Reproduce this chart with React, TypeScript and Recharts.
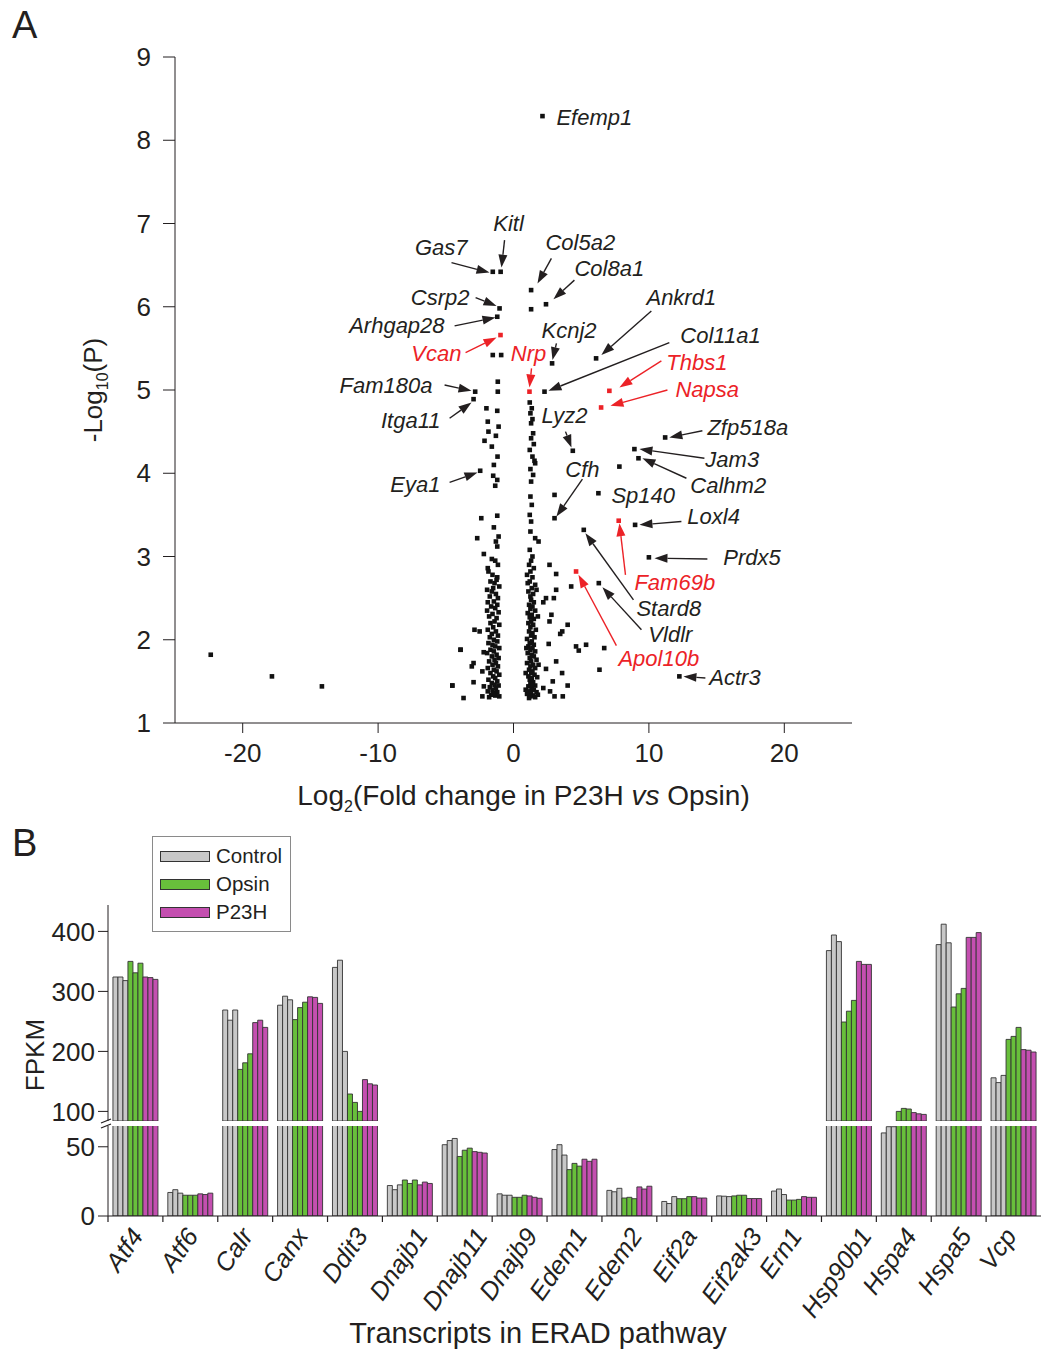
import React from "react";
import {
  Bar,
  BarChart,
  Legend,
  Rectangle,
  ReferenceDot,
  ReferenceLine,
  Scatter,
  ScatterChart,
  XAxis,
  YAxis,
} from "recharts";

const FONT = "'Liberation Sans', Arial, Helvetica, sans-serif";
const INK = "#231f20";
const RED = "#ec2227";
const GRAY = "#c8c8c8";
const GREEN = "#68bf3b";
const MAGENTA = "#c44fb0";

// ---- panel A: volcano plot, [log2 fold change, -log10 P] ----
const leftColumn: [number, number][] = [
  [-1.53, 5.42], [-0.91, 5.42], [-1.16, 5.1], [-1.16, 4.98], [-2.0, 4.78], [-1.2, 4.75],
  [-1.9, 4.62], [-1.1, 4.56], [-1.85, 4.5], [-1.3, 4.45], [-2.14, 4.39], [-1.6, 4.32],
  [-1.18, 4.2], [-1.45, 4.1], [-1.5, 3.97], [-1.2, 3.92], [-1.35, 3.85], [-1.2, 3.49],
  [-2.38, 3.46], [-2.68, 3.22], [-1.1, 3.24], [-1.2, 3.12], [-2.19, 3.03], [-1.6, 2.97],
  [-1.35, 2.95], [-1.15, 2.9], [-1.9, 2.86], [-1.45, 3.35], [-1.3, 3.18],
  [-1.85, 2.82], [-1.55, 2.78], [-1.2, 2.75], [-1.7, 2.7], [-1.4, 2.68], [-1.05, 2.64],
  [-1.95, 2.6], [-1.6, 2.58], [-1.3, 2.55], [-1.75, 2.52], [-1.15, 2.5], [-1.5, 2.62],
  [-1.25, 2.72], [-1.9, 2.45],
  [-1.45, 2.46], [-1.2, 2.42], [-1.65, 2.4], [-1.35, 2.38], [-1.95, 2.35], [-1.1, 2.33],
  [-1.55, 2.31], [-1.8, 2.28], [-1.25, 2.26], [-1.4, 2.22], [-1.7, 2.2], [-1.05, 2.18],
  [-1.5, 2.15], [-1.9, 2.12], [-1.3, 2.1], [-1.6, 2.07], [-1.15, 2.05], [-1.75, 2.03],
  [-1.45, 2.0], [-2.88, 2.12], [-2.5, 2.1],
  [-1.2, 1.98], [-1.85, 1.96], [-1.55, 1.94], [-1.35, 1.92], [-1.05, 1.9], [-1.7, 1.88],
  [-1.45, 1.86], [-1.95, 1.84], [-1.25, 1.82], [-1.6, 1.8], [-1.1, 1.78], [-1.4, 1.76],
  [-1.8, 1.74], [-1.3, 1.72], [-1.55, 1.7], [-1.15, 1.68], [-1.9, 1.66], [-1.45, 1.64],
  [-1.25, 1.62], [-1.7, 1.6], [-1.05, 1.58], [-1.5, 1.56], [-1.35, 1.54], [-1.85, 1.52],
  [-1.2, 1.5], [-3.91, 1.88], [-3.08, 1.68], [-2.95, 1.72], [-2.95, 1.49], [-2.2, 1.85],
  [-2.3, 1.62],
  [-1.6, 1.48], [-1.4, 1.46], [-1.1, 1.45], [-1.75, 1.43], [-1.3, 1.42], [-1.55, 1.4],
  [-1.9, 1.38], [-1.2, 1.37], [-1.45, 1.36], [-1.65, 1.34], [-1.35, 1.33], [-1.05, 1.32],
  [-1.8, 1.31], [-1.5, 1.35], [-4.52, 1.45], [-3.69, 1.3], [-2.19, 1.44], [-2.3, 1.32],
];

const rightColumn: [number, number][] = [
  [1.3, 5.97], [1.2, 4.85], [1.35, 4.78], [1.25, 4.72], [1.4, 4.65], [1.3, 4.6],
  [1.45, 4.48], [1.3, 4.42], [1.5, 4.35], [1.2, 4.28], [1.4, 4.2], [1.6, 4.12],
  [1.25, 4.05], [1.45, 3.98], [1.3, 3.9], [1.55, 4.15],
  [1.25, 3.72], [1.35, 3.62], [1.2, 3.5], [1.3, 3.42], [1.25, 3.3], [1.6, 3.22],
  [1.85, 3.18], [1.2, 3.08], [1.4, 3.0],
  [1.3, 2.95], [1.15, 2.9], [1.5, 2.86], [1.25, 2.82], [1.0, 2.78], [1.4, 2.75],
  [1.2, 2.7], [1.6, 2.66], [1.35, 2.62], [1.1, 2.58], [1.45, 2.55], [1.25, 2.52],
  [1.7, 2.6], [1.05, 2.68],
  [1.3, 2.48], [1.5, 2.45], [1.15, 2.42], [1.4, 2.4], [1.25, 2.37], [1.6, 2.35],
  [1.05, 2.32], [1.35, 2.3], [1.2, 2.27], [1.5, 2.25], [1.3, 2.22], [1.1, 2.2],
  [1.45, 2.18], [1.25, 2.15], [1.65, 2.12], [1.15, 2.1], [1.4, 2.08], [1.3, 2.05],
  [1.55, 2.03], [1.0, 2.01], [1.8, 2.28], [2.2, 2.45],
  [1.35, 1.98], [1.2, 1.96], [1.5, 1.94], [1.1, 1.92], [1.4, 1.9], [1.25, 1.88],
  [1.6, 1.86], [1.05, 1.84], [1.35, 1.82], [1.5, 1.8], [1.2, 1.78], [1.7, 1.76],
  [1.3, 1.74], [1.0, 1.72], [1.45, 1.7], [1.25, 1.68], [1.6, 1.66], [1.15, 1.64],
  [1.4, 1.62], [1.3, 1.6], [1.55, 1.58], [1.1, 1.56], [1.35, 1.54], [1.2, 1.52],
  [1.75, 1.55], [0.9, 1.6], [1.85, 1.7], [0.95, 1.9],
  [1.45, 1.49], [1.25, 1.47], [1.6, 1.45], [1.1, 1.44], [1.35, 1.42], [1.5, 1.4],
  [1.2, 1.38], [1.7, 1.37], [1.3, 1.36], [1.0, 1.35], [1.45, 1.33], [1.25, 1.32],
  [1.6, 1.31], [1.15, 1.3], [1.8, 1.34], [0.9, 1.4], [1.4, 1.46],
];

const outliers: [number, number][] = [
  [-22.36, 1.82], [-17.84, 1.56], [-14.15, 1.44], [-3.91, 1.88], [-4.52, 1.45],
  [3.03, 3.74], [7.82, 4.08], [2.66, 2.9], [3.15, 2.79], [4.26, 2.64], [3.15, 2.6],
  [2.4, 2.5], [2.98, 2.5], [2.66, 2.22], [4.0, 2.18], [3.6, 2.1], [3.45, 2.07],
  [4.62, 1.92], [5.36, 1.94], [6.7, 1.9], [4.82, 1.87], [6.35, 1.64], [3.15, 1.74],
  [3.59, 1.6], [2.9, 1.5], [3.64, 1.32], [3.03, 1.32], [2.6, 1.95], [2.4, 1.65],
  [2.2, 1.42], [2.7, 1.38], [4.0, 1.45], [2.8, 2.3],
];

// named genes
const blackGenes = [
  { gene: "Efemp1", x: 2.14, y: 8.29 },
  { gene: "Gas7", x: -1.53, y: 6.42 },
  { gene: "Kitl", x: -0.95, y: 6.42 },
  { gene: "Col5a2", x: 1.3, y: 6.2 },
  { gene: "Col8a1", x: 2.4, y: 6.03 },
  { gene: "Csrp2", x: -1.03, y: 5.98 },
  { gene: "Arhgap28", x: -1.2, y: 5.88 },
  { gene: "Kcnj2", x: 2.85, y: 5.32 },
  { gene: "Ankrd1", x: 6.1, y: 5.38 },
  { gene: "Col11a1", x: 2.29, y: 4.98 },
  { gene: "Fam180a", x: -2.83, y: 4.98 },
  { gene: "Itga11", x: -2.95, y: 4.89 },
  { gene: "Lyz2", x: 4.38, y: 4.27 },
  { gene: "Zfp518a", x: 11.2, y: 4.43 },
  { gene: "Jam3", x: 8.93, y: 4.29 },
  { gene: "Calhm2", x: 9.23, y: 4.18 },
  { gene: "Eya1", x: -2.46, y: 4.03 },
  { gene: "Cfh", x: 3.03, y: 3.46 },
  { gene: "Sp140", x: 6.27, y: 3.76 },
  { gene: "Loxl4", x: 8.98, y: 3.38 },
  { gene: "Prdx5", x: 10.0, y: 2.99 },
  { gene: "Stard8", x: 5.19, y: 3.32 },
  { gene: "Vldlr", x: 6.3, y: 2.68 },
  { gene: "Actr3", x: 12.25, y: 1.56 },
];

const redGenes = [
  { gene: "Vcan", x: -0.96, y: 5.66 },
  { gene: "Nrp", x: 1.18, y: 4.98 },
  { gene: "Thbs1", x: 7.08, y: 4.99 },
  { gene: "Napsa", x: 6.47, y: 4.79 },
  { gene: "Fam69b", x: 7.77, y: 3.43 },
  { gene: "Apol10b", x: 4.62, y: 2.82 },
];

// label placement (data units): text anchor point and arrow tail -> tip
type Note = { at: [number, number]; anchor: "start" | "middle" | "end"; arrow?: [number, number, number, number] };
const notes: Record<string, Note> = {
  Efemp1: { at: [3.17, 8.27], anchor: "start" },
  Kitl: { at: [-0.37, 7.0], anchor: "middle", arrow: [-0.66, 6.8, -0.89, 6.47] },
  Gas7: { at: [-3.39, 6.71], anchor: "end", arrow: [-4.58, 6.53, -1.77, 6.41] },
  Col5a2: { at: [2.36, 6.77], anchor: "start", arrow: [2.8, 6.58, 1.77, 6.28] },
  Col8a1: { at: [4.5, 6.46], anchor: "start", arrow: [4.5, 6.32, 2.95, 6.09] },
  Csrp2: { at: [-3.25, 6.11], anchor: "end", arrow: [-2.8, 6.11, -1.25, 6.01] },
  Arhgap28: { at: [-5.09, 5.78], anchor: "end", arrow: [-4.35, 5.77, -1.33, 5.87] },
  Vcan: { at: [-3.84, 5.44], anchor: "end", arrow: [-3.54, 5.45, -1.25, 5.63] },
  Nrp: { at: [1.11, 5.44], anchor: "middle", arrow: [1.33, 5.26, 1.18, 5.03] },
  Kcnj2: { at: [2.07, 5.72], anchor: "start", arrow: [3.17, 5.56, 2.88, 5.36] },
  Ankrd1: { at: [9.82, 6.11], anchor: "start", arrow: [10.18, 5.95, 6.49, 5.42] },
  Col11a1: { at: [12.32, 5.65], anchor: "start", arrow: [11.51, 5.57, 2.58, 4.99] },
  Thbs1: { at: [11.29, 5.33], anchor: "start", arrow: [10.92, 5.35, 7.82, 5.03] },
  Napsa: { at: [11.96, 5.01], anchor: "start", arrow: [11.37, 5.0, 7.16, 4.81] },
  Fam180a: { at: [-5.98, 5.06], anchor: "end", arrow: [-5.09, 5.06, -3.1, 4.99] },
  Itga11: { at: [-5.39, 4.63], anchor: "end", arrow: [-4.72, 4.66, -3.1, 4.85] },
  Lyz2: { at: [2.07, 4.69], anchor: "start", arrow: [3.84, 4.5, 4.28, 4.31] },
  Zfp518a: { at: [14.32, 4.55], anchor: "start", arrow: [13.95, 4.51, 11.51, 4.43] },
  Jam3: { at: [14.17, 4.16], anchor: "start", arrow: [14.1, 4.18, 9.3, 4.29] },
  Calhm2: { at: [13.06, 3.85], anchor: "start", arrow: [12.77, 3.94, 9.52, 4.18] },
  Eya1: { at: [-5.39, 3.86], anchor: "end", arrow: [-4.72, 3.89, -2.66, 4.01] },
  Cfh: { at: [5.09, 4.05], anchor: "middle", arrow: [5.09, 3.93, 3.17, 3.48] },
  Sp140: { at: [7.23, 3.73], anchor: "start" },
  Loxl4: { at: [12.84, 3.48], anchor: "start", arrow: [12.4, 3.42, 9.3, 3.38] },
  Prdx5: { at: [15.5, 2.99], anchor: "start", arrow: [14.32, 2.97, 10.41, 2.98] },
  Fam69b: { at: [8.93, 2.69], anchor: "start", arrow: [8.27, 2.78, 7.82, 3.4] },
  Stard8: { at: [9.08, 2.37], anchor: "start", arrow: [8.86, 2.48, 5.31, 3.28] },
  Vldlr: { at: [9.96, 2.06], anchor: "start", arrow: [9.45, 2.12, 6.57, 2.63] },
  Apol10b: { at: [7.75, 1.77], anchor: "start", arrow: [7.6, 1.93, 4.8, 2.78] },
  Actr3: { at: [14.46, 1.55], anchor: "start", arrow: [14.17, 1.54, 12.55, 1.56] },
};

// ---- panel B: ERAD transcripts, FPKM for 3 replicates each ----
const genes = [
  "Atf4", "Atf6", "Calr", "Canx", "Ddit3", "Dnajb1", "Dnajb11", "Dnajb9", "Edem1",
  "Edem2", "Eif2a", "Eif2ak3", "Ern1", "Hsp90b1", "Hspa4", "Hspa5", "Vcp",
];
const control = [
  [324, 324, 318], [17, 19, 16.5], [269, 252, 269], [277, 292, 286], [340, 352, 200],
  [22, 19, 22.5], [51.5, 54.5, 56], [16, 15, 15], [48, 51.5, 44], [18.5, 17.5, 20],
  [10.5, 9, 14], [14.5, 14.3, 14], [18, 19.5, 15.5], [368, 394, 383], [60, 64.5, 64.5],
  [378, 412, 381], [156, 148, 160],
];
const opsin = [
  [350, 331, 347], [15, 15, 15], [170, 181, 196], [253, 273, 282], [129, 115, 100],
  [26, 23.5, 26], [43, 47.5, 49], [13.5, 13.5, 15], [33.5, 38, 36], [13, 13.5, 12.5],
  [12.5, 12.5, 14], [14.5, 15, 15], [11.5, 11.5, 12], [249, 267, 285], [100, 105, 104],
  [274, 296, 305], [220, 225, 240],
];
const p23h = [
  [324, 323, 320], [16, 15.5, 16.5], [248, 252, 240], [291, 290, 280], [153, 146, 144],
  [22.5, 24.5, 23.5], [46.5, 46, 45.5], [14.5, 13.5, 12.8], [41, 39.5, 41], [21, 19.5, 21.5],
  [14, 13, 13], [12.6, 12.6, 12.6], [14, 13.5, 13.5], [350, 345, 345], [98, 96, 95],
  [390, 390, 398], [203, 202, 199],
];

// broken FPKM axis: lower segment 0-65, upper segment 84-444
const LOWER_DOMAIN: [number, number] = [0, 65];
const UPPER_DOMAIN: [number, number] = [84, 444];

const toPts = (list: [number, number][]) => list.map(([x, y]) => ({ x, y }));
const blackPts = [...toPts(leftColumn), ...toPts(rightColumn), ...toPts(outliers), ...blackGenes];

const rows = genes.map((gene, i) => ({
  gene,
  c1: control[i][0], c2: control[i][1], c3: control[i][2],
  o1: opsin[i][0], o2: opsin[i][1], o3: opsin[i][2],
  p1: p23h[i][0], p2: p23h[i][1], p3: p23h[i][2],
}));

const SERIES = [
  { key: "c1", fill: GRAY, name: "Control" }, { key: "c2", fill: GRAY }, { key: "c3", fill: GRAY },
  { key: "o1", fill: GREEN, name: "Opsin" }, { key: "o2", fill: GREEN }, { key: "o3", fill: GREEN },
  { key: "p1", fill: MAGENTA, name: "P23H" }, { key: "p2", fill: MAGENTA }, { key: "p3", fill: MAGENTA },
];
const LEGEND_NAMES = SERIES.filter((s) => s.name).map((s) => s.name);

const square = (color: string) => (p: any) => (
  <rect x={p.cx - 2.3} y={p.cy - 2.3} width={4.6} height={4.6} fill={color} />
);

const arrow = (color: string) => (p: any) => {
  const { x1, y1, x2, y2 } = p;
  const dx = x2 - x1;
  const dy = y2 - y1;
  const len = Math.hypot(dx, dy) || 1;
  const ux = dx / len;
  const uy = dy / len;
  const hl = Math.min(13, len * 0.75);
  const hw = 4.5;
  const bx = x2 - ux * hl;
  const by = y2 - uy * hl;
  return (
    <g>
      <line x1={x1} y1={y1} x2={bx} y2={by} stroke={color} strokeWidth={1.4} />
      <polygon
        points={`${x2},${y2} ${bx - uy * hw},${by + ux * hw} ${bx + uy * hw},${by - ux * hw}`}
        fill={color}
      />
    </g>
  );
};

const tickStyle = { fontSize: 26, fill: INK, fontFamily: FONT };

const xLabelA = (props: any) => {
  const { x, y, width } = props.viewBox;
  return (
    <text x={x + width / 2 + 10} y={y + 82} textAnchor="middle" fontSize={28} fontFamily={FONT} fill={INK}>
      Log<tspan dy={7} fontSize={16}>2</tspan>
      <tspan dy={-7}>(Fold change in P23H </tspan>
      <tspan fontStyle="italic">vs</tspan>
      <tspan> Opsin)</tspan>
    </text>
  );
};

const yLabelA = (props: any) => {
  const { y, height } = props.viewBox;
  const cx = 102;
  const cy = y + height * 0.5;
  return (
    <text x={cx} y={cy} transform={`rotate(-90, ${cx}, ${cy})`} textAnchor="middle" fontSize={26} fontFamily={FONT} fill={INK}>
      -Log<tspan dy={6} fontSize={16}>10</tspan>
      <tspan dy={-6}>(P)</tspan>
    </text>
  );
};

const fpkmLabel = (props: any) => {
  const { y } = props.viewBox;
  const cx = 44;
  const cy = y + 150;
  return (
    <text x={cx} y={cy} transform={`rotate(-90, ${cx}, ${cy})`} textAnchor="middle" fontSize={26} fontFamily={FONT} fill={INK}>
      FPKM
    </text>
  );
};

const eradLabel = (props: any) => {
  const { x, y } = props.viewBox;
  return (
    <text x={x + 430} y={y + 127} textAnchor="middle" fontSize={29} fontFamily={FONT} fill={INK}>
      Transcripts in ERAD pathway
    </text>
  );
};

const GeneTick = (props: any) => {
  const { x, y, payload } = props;
  const half = payload.offset ?? 0;
  const name = String(payload.value);
  const tx = x + 5 * (name.length - 3) + 4;
  const ty = y + 20;
  return (
    <g>
      <line x1={x - half} x2={x - half} y1={y} y2={y + 6} stroke={INK} strokeWidth={1.2} />
      <text
        x={tx}
        y={ty}
        transform={`rotate(-55, ${tx}, ${ty})`}
        textAnchor="end"
        fontStyle="italic"
        fontSize={25.5}
        fontFamily={FONT}
        fill={INK}
      >
        {name}
      </text>
    </g>
  );
};

const LegendBox = (props: any) => (
  <div
    style={{
      border: "1px solid #8a8a8a",
      background: "#fff",
      padding: "5px 6px 5px 7px",
      fontFamily: FONT,
      color: INK,
      width: 124,
    }}
  >
    {(props.payload || [])
      .filter((e: any) => LEGEND_NAMES.includes(e.value))
      .map((e: any) => (
        <div key={e.value} style={{ display: "flex", alignItems: "center", height: 28 }}>
          <span
            style={{
              display: "inline-block",
              width: 48,
              height: 9,
              background: e.color,
              border: "1.5px solid #333",
              marginRight: 6,
            }}
          />
          <span style={{ fontSize: 20.5 }}>{e.value}</span>
        </div>
      ))}
  </div>
);

// bars below the segment's floor are skipped so no stray outline shows at the break
const bars = (floor: number) =>
  SERIES.map((s) => (
    <Bar
      key={s.key}
      dataKey={s.key}
      name={s.name ?? s.key}
      fill={s.fill}
      stroke="#333"
      strokeWidth={0.9}
      legendType={s.name ? "rect" : "none"}
      isAnimationActive={false}
      shape={(p: any) => (p.payload[s.key] > floor ? <Rectangle {...p} /> : <g />)}
    />
  ));

const panelLetter = (text: string, top: number) => (
  <div style={{ position: "absolute", left: 12, top, fontSize: 38, fontFamily: FONT, color: INK }}>{text}</div>
);

export default function App() {
  const allNamed = [...blackGenes.map((g) => ({ ...g, color: INK })), ...redGenes.map((g) => ({ ...g, color: RED }))];
  return (
    <div style={{ position: "absolute", left: 0, top: 0, width: 1041, height: 1351, background: "#fff" }}>
      {panelLetter("A", 4)}
      {panelLetter("B", 822)}

      <div style={{ position: "absolute", left: 0, top: 0 }}>
        <ScatterChart width={1041} height={830} margin={{ top: 57, right: 189, bottom: 0, left: 0 }}>
          <XAxis
            type="number"
            dataKey="x"
            domain={[-25, 25]}
            ticks={[-20, -10, 0, 10, 20]}
            interval={0}
            height={107}
            tickSize={10}
            tickMargin={11}
            tick={tickStyle}
            stroke={INK}
            allowDataOverflow
            label={xLabelA}
          />
          <YAxis
            type="number"
            dataKey="y"
            domain={[1, 9]}
            ticks={[1, 2, 3, 4, 5, 6, 7, 8, 9]}
            interval={0}
            width={175}
            tickSize={12}
            tickMargin={12}
            tick={tickStyle}
            stroke={INK}
            allowDataOverflow
            label={yLabelA}
          />
          <Scatter data={blackPts} shape={square("#111")} isAnimationActive={false} />
          <Scatter data={redGenes} shape={square(RED)} isAnimationActive={false} />
          {allNamed.map((g) => {
            const n = notes[g.gene];
            if (!n || !n.arrow) return null;
            const [x1, y1, x2, y2] = n.arrow;
            return (
              <ReferenceLine
                key={"a" + g.gene}
                segment={[{ x: x1, y: y1 }, { x: x2, y: y2 }]}
                shape={arrow(g.color)}
                ifOverflow="visible"
              />
            );
          })}
          {allNamed.map((g) => {
            const n = notes[g.gene];
            if (!n) return null;
            return (
              <ReferenceDot
                key={"t" + g.gene}
                x={n.at[0]}
                y={n.at[1]}
                r={0}
                ifOverflow="visible"
                shape={(p: any) => (
                  <text
                    x={p.cx}
                    y={p.cy}
                    textAnchor={n.anchor}
                    dominantBaseline="central"
                    fontStyle="italic"
                    fontSize={22}
                    fontFamily={FONT}
                    fill={g.color}
                  >
                    {g.gene}
                  </text>
                )}
              />
            );
          })}
        </ScatterChart>
      </div>

      {/* upper segment of the broken axis */}
      <div style={{ position: "absolute", left: 0, top: 830 }}>
        <BarChart
          width={1041}
          height={310}
          data={rows}
          margin={{ top: 75, right: 0, bottom: 19, left: 0 }}
          barGap={0}
          barCategoryGap="9%"
        >
          <XAxis dataKey="gene" hide />
          <YAxis
            type="number"
            domain={UPPER_DOMAIN}
            ticks={[100, 200, 300, 400]}
            interval={0}
            allowDataOverflow
            width={108}
            tickSize={10}
            tickMargin={3}
            tick={tickStyle}
            stroke={INK}
            label={fpkmLabel}
          />
          <Legend
            layout="horizontal"
            verticalAlign="middle"
            align="center"
            content={LegendBox}
            wrapperStyle={{ position: "absolute", left: 152, top: 6, width: 141 }}
          />
          {bars(UPPER_DOMAIN[0])}
        </BarChart>
      </div>

      {/* lower segment of the broken axis */}
      <div style={{ position: "absolute", left: 0, top: 1106 }}>
        <BarChart
          width={1041}
          height={245}
          data={rows}
          margin={{ top: 20, right: 0, bottom: 0, left: 0 }}
          barGap={0}
          barCategoryGap="9%"
        >
          <XAxis
            dataKey="gene"
            height={135}
            interval={0}
            tickLine={false}
            tickSize={0}
            tickMargin={0}
            tick={<GeneTick />}
            stroke={INK}
            label={eradLabel}
          />
          <YAxis
            type="number"
            domain={LOWER_DOMAIN}
            ticks={[0, 50]}
            interval={0}
            allowDataOverflow
            width={108}
            tickSize={10}
            tickMargin={3}
            tick={tickStyle}
            stroke={INK}
          />
          {bars(LOWER_DOMAIN[0] - 1)}
        </BarChart>
      </div>

      {/* axis break mark */}
      <svg style={{ position: "absolute", left: 98, top: 1115 }} width={16} height={16}>
        <line x1={3} y1={8} x2={13} y2={4} stroke={INK} strokeWidth={1.2} />
        <line x1={3} y1={13} x2={13} y2={9} stroke={INK} strokeWidth={1.2} />
      </svg>
    </div>
  );
}
